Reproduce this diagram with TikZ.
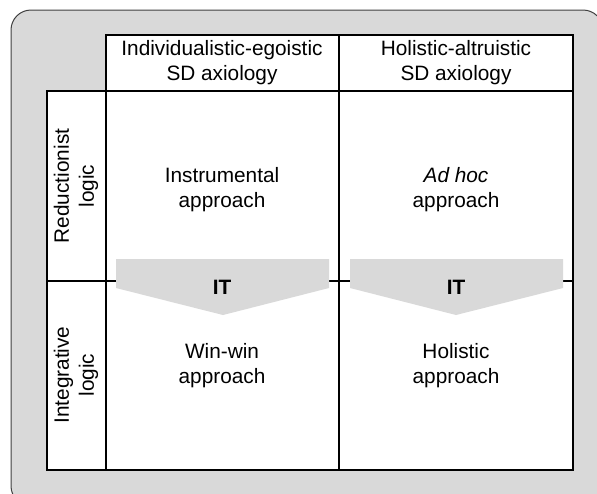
\documentclass[tikz,border=0pt]{standalone}
\usepackage{fontspec}
\setmainfont{Liberation Sans}
\definecolor{boxgray}{HTML}{D9D9D9}

\begin{document}
\begin{tikzpicture}[x=1pt,y=-1pt,every node/.style = {align=center, font=\fontsize{20.8}{25}\selectfont},grid/.style={draw=black, line width=1.7pt},chevron/.style={fill=boxgray}]
\useasboundingbox (0,0) rectangle (597,493);
% background panel
\fill[boxgray, draw=black!75, line width=1pt, rounded corners=20pt] (11,10) rectangle (603,506);
\fill[white] (106,35) rectangle (573,470);
\fill[white] (47,91) rectangle (106,470);
% grid
\draw[grid] (106,35) rectangle (573,470);
\draw[grid] (47,91) rectangle (106,470);
\draw[grid] (106,91) -- (573,91);
\draw[grid] (339,35) -- (339,470);
\draw[grid] (47,281) -- (573,281);
% transition arrows
\fill[chevron] (116,259) -- (329,259) -- (329,288) -- (223,315) -- (116,288) -- cycle;
\fill[chevron] (350,259) -- (563,259) -- (563,288) -- (456,315) -- (350,288) -- cycle;
\node(itA) at (222,287) {\textbf{IT}};
\node(itB) at (456,287) {\textbf{IT}};
% headers
\node(egoistic) at (222,63) {Individualistic-egoistic\\SD axiology};
\node(altruistic) at (456,63) {Holistic-altruistic\\SD axiology};
\node[rotate=90](reductionist) at (76,186) {Reductionist\\logic};
\node[rotate=90](integrative) at (76,375) {Integrative\\logic};
% cells
\node(instrumental) at (222,190) {Instrumental\\approach};
\node(adhoc) at (456,190) {\textit{Ad hoc}\\approach};
\node(winwin) at (222,366) {Win-win\\approach};
\node(holistic) at (456,366) {Holistic\\approach};
\end{tikzpicture}
\end{document}
